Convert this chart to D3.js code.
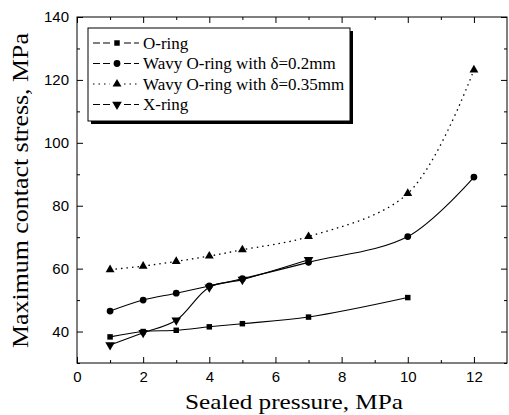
<!DOCTYPE html>
<html>
<head>
<meta charset="utf-8">
<script src="https://cdn.jsdelivr.net/npm/d3@7"></script>
<style>
  body { margin: 0; background: #fff; }
</style>
</head>
<body>
<div id="chart"></div>
<script>
var w = 509;
var h = 415;
var margin = {left: 77, right: 2, top: 17, bottom: 52};
var serif = "'Liberation Serif', 'Times New Roman', serif";

// Data
var pressure = [1, 2, 3, 4, 5, 7, 10, 12];
var oRing = [38.3, 40.0, 40.4, 41.5, 42.5, 44.6, 50.8];
var wavy02 = [46.5, 50.0, 52.2, 54.5, 56.8, 62.0, 70.2, 89.1];
var wavy035 = [59.7, 60.8, 62.3, 64.0, 66.0, 70.2, 83.9, 123.2];
var xRing = [35.7, 39.6, 43.6, 54.1, 56.5, 62.8];
var seriesNames = ["O-ring", "Wavy O-ring with \u03b4=0.2mm", "Wavy O-ring with \u03b4=0.35mm", "X-ring"];
var xTicks = [0, 2, 4, 6, 8, 10, 12];
var yTicks = [40, 60, 80, 100, 120, 140];

function toPoints(vals) {
  return vals.map(function(v, i) { return {x: pressure[i], y: v}; });
}

var series = [
  {name: seriesNames[0], pts: toPoints(oRing), sym: d3.symbolSquare, size: 30, dash: null},
  {name: seriesNames[1], pts: toPoints(wavy02), sym: d3.symbolCircle, size: 36, dash: null},
  {name: seriesNames[2], pts: toPoints(wavy035), sym: d3.symbolTriangle, size: 34, dash: "1.5,4"},
  {name: seriesNames[3], pts: toPoints(xRing), sym: d3.symbolTriangle, size: 40, dash: null, flip: true}
];

var svg = d3.select("#chart").append("svg")
  .attr("width", w)
  .attr("height", h);

var xScale = d3.scaleLinear().domain([0, 13]).range([margin.left, w - margin.right]);
var yScale = d3.scaleLinear().domain([30, 140]).range([h - margin.bottom, margin.top]);

var x0 = margin.left, x1 = w - margin.right;
var y0 = h - margin.bottom, y1 = margin.top;

// Axes: ticks pointing inward on all four sides
function styleAxis(g) {
  g.select(".domain").remove();
  g.selectAll("line").attr("stroke", "#000");
  g.selectAll("text")
    .style("font-family", "Arial, 'Liberation Sans', sans-serif")
    .style("font-size", "15px")
    .attr("fill", "#000");
}

var xMinor = d3.range(1, 13, 2);
var yMinor = d3.range(30, 140, 20);

svg.append("g")
  .attr("transform", "translate(0," + y0 + ")")
  .call(d3.axisBottom(xScale).tickValues(xTicks).tickSize(-6).tickPadding(8))
  .call(styleAxis);
svg.append("g")
  .attr("transform", "translate(0," + y0 + ")")
  .call(d3.axisBottom(xScale).tickValues(xMinor).tickSize(-3).tickFormat(""))
  .call(styleAxis);
svg.append("g")
  .attr("transform", "translate(0," + y1 + ")")
  .call(d3.axisTop(xScale).tickValues(xTicks).tickSize(-6).tickFormat(""))
  .call(styleAxis);
svg.append("g")
  .attr("transform", "translate(0," + y1 + ")")
  .call(d3.axisTop(xScale).tickValues(xMinor).tickSize(-3).tickFormat(""))
  .call(styleAxis);

svg.append("g")
  .attr("transform", "translate(" + x0 + ",0)")
  .call(d3.axisLeft(yScale).tickValues(yTicks).tickSize(-6).tickPadding(8))
  .call(styleAxis);
svg.append("g")
  .attr("transform", "translate(" + x0 + ",0)")
  .call(d3.axisLeft(yScale).tickValues(yMinor).tickSize(-3).tickFormat(""))
  .call(styleAxis);
svg.append("g")
  .attr("transform", "translate(" + x1 + ",0)")
  .call(d3.axisRight(yScale).tickValues(yTicks).tickSize(-6).tickFormat(""))
  .call(styleAxis);
svg.append("g")
  .attr("transform", "translate(" + x1 + ",0)")
  .call(d3.axisRight(yScale).tickValues(yMinor).tickSize(-3).tickFormat(""))
  .call(styleAxis);

// Frame
svg.append("rect")
  .attr("x", x0)
  .attr("y", y1)
  .attr("width", x1 - x0)
  .attr("height", y0 - y1)
  .attr("fill", "none")
  .attr("stroke", "#000")
  .attr("stroke-width", 1);

// Lines and markers
var line = d3.line()
  .x(function(d) { return xScale(d.x); })
  .y(function(d) { return yScale(d.y); })
  .curve(d3.curveCatmullRom.alpha(0.5));

series.forEach(function(s) {
  svg.append("path")
    .datum(s.pts)
    .attr("fill", "none")
    .attr("stroke", "#000")
    .attr("stroke-width", s.dash ? 1.3 : 1.1)
    .attr("stroke-dasharray", s.dash)
    .attr("d", line);

  svg.selectAll(null)
    .data(s.pts)
    .enter()
    .append("path")
    .attr("d", d3.symbol().type(s.sym).size(s.size))
    .attr("transform", function(d) {
      return "translate(" + xScale(d.x) + "," + yScale(d.y) + ")" + (s.flip ? " rotate(180)" : "");
    })
    .attr("fill", "#000");
});

// Legend with drop shadow
var lg = svg.append("g");
lg.append("rect")
  .attr("x", 91).attr("y", 31)
  .attr("width", 262).attr("height", 93)
  .attr("fill", "#000");
lg.append("rect")
  .attr("x", 88).attr("y", 28)
  .attr("width", 262).attr("height", 93)
  .attr("fill", "#fff")
  .attr("stroke", "#000")
  .attr("stroke-width", 1);

var entry = lg.selectAll(".legend")
  .data(series)
  .enter()
  .append("g")
  .attr("class", "legend")
  .attr("transform", function(d, i) { return "translate(0," + (43 + i * 20.5) + ")"; });

entry.append("line")
  .attr("x1", 93).attr("x2", 110)
  .attr("y1", 0).attr("y2", 0)
  .attr("stroke", "#000")
  .attr("stroke-width", 1)
  .attr("stroke-dasharray", function(d) { return d.dash ? "1.5,4" : "7,3"; });
entry.append("line")
  .attr("x1", 124).attr("x2", 139)
  .attr("y1", 0).attr("y2", 0)
  .attr("stroke", "#000")
  .attr("stroke-width", 1)
  .attr("stroke-dasharray", function(d) { return d.dash ? "1.5,4" : "7,3"; });

entry.append("path")
  .attr("d", function(d) { return d3.symbol().type(d.sym).size(d.size)(); })
  .attr("transform", function(d) { return "translate(117,0)" + (d.flip ? " rotate(180)" : ""); })
  .attr("fill", "#000");

entry.append("text")
  .attr("x", 143)
  .attr("y", 0)
  .attr("dy", "0.35em")
  .attr("font-family", serif)
  .attr("font-size", "17px")
  .text(function(d) { return d.name; });

// Axis titles (reference type is a little wider than Times, so stretch to its length)
svg.append("text")
  .attr("x", 185)
  .attr("y", 409)
  .attr("font-family", serif)
  .attr("font-size", "22px")
  .attr("textLength", 218)
  .attr("lengthAdjust", "spacingAndGlyphs")
  .text("Sealed pressure, MPa");

svg.append("text")
  .attr("transform", "translate(28,348) rotate(-90)")
  .attr("font-family", serif)
  .attr("font-size", "23.5px")
  .attr("textLength", 315)
  .attr("lengthAdjust", "spacingAndGlyphs")
  .text("Maximum contact stress, MPa");
</script>
</body>
</html>
